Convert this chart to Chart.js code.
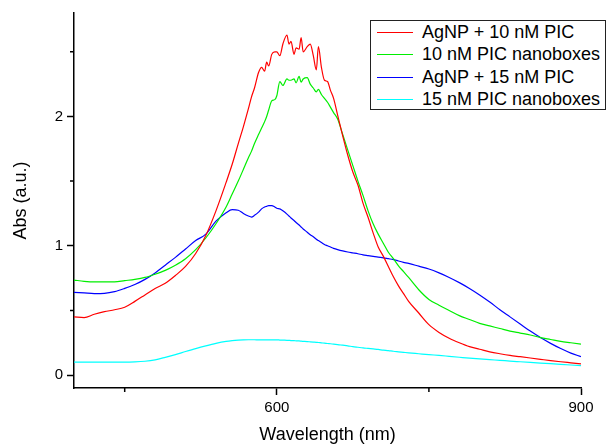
<!DOCTYPE html>
<html>
<head>
<meta charset="utf-8">
<script src="https://cdn.jsdelivr.net/npm/chart.js@4.4.0/dist/chart.umd.min.js"></script>
<style>
  body { margin: 0; background: #fff; }
  #wrap { position: relative; width: 610px; height: 446px; }
  #legend {
    position: absolute; left: 370px; top: 20px; width: 234px; height: 88px;
    border: 1.5px solid #222; background: #fff;
    font-family: "Liberation Sans", Arial, sans-serif; font-size: 18px; color: #000;
  }
  .row { position: absolute; left: 0; height: 22px; line-height: 22px; white-space: nowrap; }
  .swatch { position: absolute; left: 6px; top: 11px; width: 36px; height: 0; border-top: 1.5px solid; }
  .txt { position: absolute; left: 51px; }
</style>
</head>
<body>
<div id="wrap">
  <canvas id="grafica" width="610" height="446"></canvas>
  <div id="legend"></div>
</div>
<script>
// wavelength grid (nm), finer around the noisy maximum
const wavelength = [400,410,420,430,440,450,460,470,480,490,500,510,520,530,540,550,
  556,562,567,
  572,575,578,582,585,588,590,592,595,598,600,603,606,610,612,614,617,619,622,624,626,630,633,636,639,641,644,647,650,653,656,660,
  665,670,675,680,685,690,695,700,705,710,715,720,725,730,
  740,750,760,770,780,790,800,810,820,830,840,850,860,870,880,890,900];

const agnp10 = [0.45,0.445,0.47,0.49,0.505,0.525,0.57,0.62,0.67,0.71,0.77,0.84,0.94,1.08,1.27,1.49,
  1.63,1.79,1.92,
  2.06,2.15,2.22,2.34,2.38,2.35,2.42,2.39,2.48,2.50,2.50,2.47,2.56,2.63,2.56,2.58,2.48,2.53,2.52,2.61,2.50,2.54,2.56,2.47,2.36,2.54,2.38,2.28,2.27,2.20,2.14,2.01,
  1.85,1.70,1.57,1.47,1.33,1.22,1.10,0.99,0.92,0.84,0.76,0.69,0.63,0.57,
  0.48,0.39,0.33,0.285,0.25,0.22,0.20,0.18,0.165,0.152,0.142,0.132,0.122,0.112,0.103,0.095,0.087];

const boxes10 = [0.735,0.725,0.72,0.72,0.72,0.73,0.74,0.755,0.78,0.81,0.85,0.90,0.97,1.06,1.17,1.30,
  1.40,1.50,1.59,
  1.68,1.73,1.79,1.86,1.91,1.96,2.00,2.05,2.12,2.13,2.16,2.27,2.24,2.29,2.28,2.28,2.29,2.26,2.31,2.265,2.29,2.30,2.25,2.22,2.19,2.21,2.17,2.14,2.11,2.07,2.03,1.98,
  1.86,1.74,1.62,1.50,1.39,1.27,1.17,1.09,1.02,0.95,0.90,0.845,0.80,0.755,
  0.66,0.585,0.54,0.50,0.46,0.43,0.40,0.38,0.36,0.34,0.325,0.31,0.29,0.275,0.26,0.25,0.24];

const agnp15 = [0.64,0.635,0.63,0.632,0.645,0.67,0.70,0.74,0.79,0.85,0.91,0.975,1.04,1.09,1.19,1.255,
  1.28,1.275,1.25,
  1.23,1.222,1.235,1.26,1.285,1.30,1.305,1.31,1.31,1.30,1.29,1.285,1.27,1.245,1.23,1.215,1.195,1.18,1.16,1.145,1.13,1.105,1.085,1.07,1.05,1.04,1.025,1.01,1.0,0.99,0.98,0.97,
  0.96,0.952,0.945,0.938,0.93,0.924,0.918,0.912,0.907,0.90,0.893,0.882,0.872,0.864,
  0.842,0.82,0.79,0.755,0.715,0.67,0.62,0.565,0.505,0.45,0.395,0.34,0.29,0.245,0.205,0.17,0.143];

const boxes15 = [0.10,0.10,0.10,0.10,0.10,0.10,0.102,0.107,0.118,0.137,0.158,0.182,0.205,0.226,0.245,0.26,
  0.266,0.27,0.272,
  0.273,0.273,0.273,0.272,0.272,0.272,0.272,0.272,0.272,0.272,0.272,0.271,0.27,0.269,0.268,0.267,0.266,0.265,0.264,0.262,0.261,0.259,0.257,0.255,0.253,0.252,0.249,0.247,0.244,0.242,0.239,0.236,
  0.231,0.226,0.22,0.215,0.21,0.206,0.202,0.198,0.193,0.189,0.184,0.18,0.176,0.172,
  0.165,0.158,0.152,0.145,0.138,0.131,0.125,0.119,0.114,0.108,0.103,0.098,0.093,0.088,0.083,0.078,0.073];

const seriesNames = ['AgNP + 10 nM PIC', '10 nM PIC nanoboxes', 'AgNP + 15 nM PIC', '15 nM PIC nanoboxes'];
const seriesColors = ['#ff0000', '#00ee00', '#0000ff', '#00ffff'];

const xTicks = [600, 900];
const xMinor = [450, 750];
const yTicks = [0, 1, 2];
const yMinor = [0.5, 1.5, 2.5];

Chart.defaults.font.family = '"Liberation Sans", Arial, sans-serif';
Chart.defaults.color = '#000';

function toPoints(values) {
    return values.map((v, i) => ({ x: wavelength[i], y: v }));
}

const allSeries = [agnp10, boxes10, agnp15, boxes15];
let datasetValue = [];
for (let i = 0; i < allSeries.length; i++) {
    datasetValue[i] = {
        label: seriesNames[i],
        data: toPoints(allSeries[i]),
        borderColor: seriesColors[i],
        backgroundColor: seriesColors[i],
        borderWidth: 1.2,
        pointRadius: 0,
        cubicInterpolationMode: 'monotone'
    };
}

// small outward ticks between the labelled ones
const minorTicks = {
    id: 'minorTicks',
    afterDraw(chart) {
        const ctx = chart.ctx;
        const xs = chart.scales.x;
        const ys = chart.scales.y;
        ctx.save();
        ctx.strokeStyle = '#000';
        ctx.lineWidth = 1.5;
        ctx.beginPath();
        xMinor.forEach(v => {
            const px = xs.getPixelForValue(v);
            ctx.moveTo(px, xs.top);
            ctx.lineTo(px, xs.top + 4);
        });
        yMinor.forEach(v => {
            const py = ys.getPixelForValue(v);
            ctx.moveTo(ys.right, py);
            ctx.lineTo(ys.right - 4, py);
        });
        ctx.stroke();
        ctx.restore();
    }
};

const myChart = new Chart(document.getElementById('grafica'), {
    type: 'line',
    data: { datasets: datasetValue },
    options: {
        responsive: false,
        animation: false,
        layout: { padding: { top: 13, right: 29, left: 0, bottom: 0 } },
        plugins: {
            legend: { display: false },
            tooltip: { enabled: false }
        },
        scales: {
            x: {
                type: 'linear',
                min: 400,
                max: 900,
                afterBuildTicks: s => { s.ticks = xTicks.map(v => ({ value: v })); },
                afterFit: s => { s.height = 58; },
                grid: { drawOnChartArea: false, tickLength: 7, tickWidth: 1.5, tickColor: '#000' },
                border: { color: '#000', width: 1.5 },
                ticks: { font: { size: 15 }, padding: 4, maxRotation: 0, autoSkip: false },
                title: { display: true, text: 'Wavelength (nm)', font: { size: 18 }, padding: 0 }
            },
            y: {
                type: 'linear',
                min: -0.1,
                max: 2.8,
                afterBuildTicks: s => { s.ticks = yTicks.map(v => ({ value: v })); },
                afterFit: s => { s.width = 74; },
                grid: { drawOnChartArea: false, tickLength: 7, tickWidth: 1.5, tickColor: '#000' },
                border: { color: '#000', width: 1.5 },
                ticks: { font: { size: 15 }, padding: 4 },
                title: { display: true, text: 'Abs (a.u.)', font: { size: 18 }, padding: { top: 10, bottom: 0 } }
            }
        }
    },
    plugins: [minorTicks]
});

// legend box drawn as html from the datasets
const legend = document.getElementById('legend');
myChart.data.datasets.forEach((ds, i) => {
    const row = document.createElement('div');
    row.className = 'row';
    row.style.top = (i * 22.3) + 'px';
    row.innerHTML = '<span class="swatch" style="border-color:' + ds.borderColor + '"></span><span class="txt">' + ds.label + '</span>';
    legend.appendChild(row);
});
</script>
</body>
</html>
